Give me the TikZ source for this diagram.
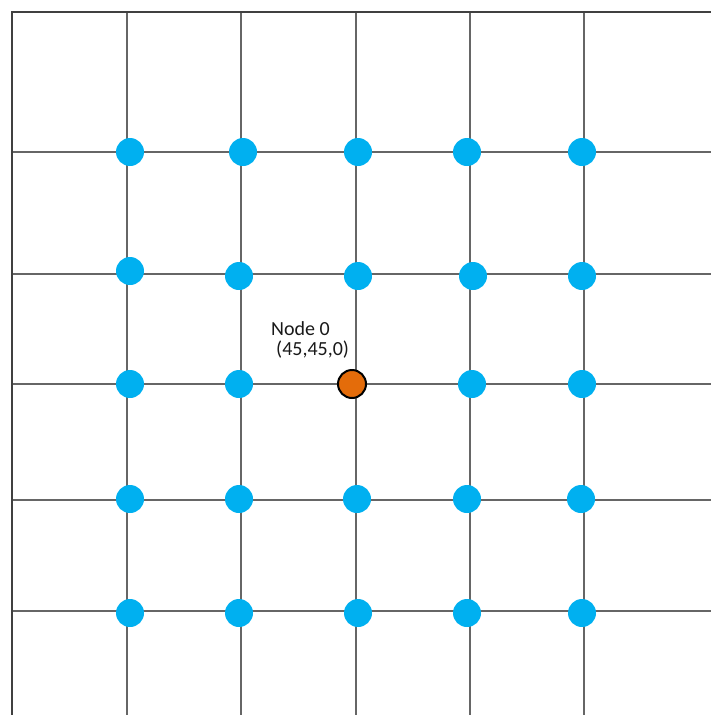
\documentclass[tikz,border=0pt]{standalone}
\usepackage{fontspec}
\setmainfont{Carlito}
\usepackage{tikz}
\usetikzlibrary{positioning}
\definecolor{sensorblue}{HTML}{00B0F0}
\definecolor{sinkorange}{HTML}{E46C0A}
\tikzset{
	gridline/.style={line width=2pt, draw=black!60},
	borderline/.style={line width=2pt, draw=black!75},
	sensor/.style={circle, fill=sensorblue, minimum size=28pt, inner sep=0pt},
	sink/.style={circle, fill=sinkorange, draw=black, line width=2pt, minimum size=28pt, inner sep=0pt},
	labeltext/.style={font=\fontsize{20}{24}\selectfont, text=black!90, inner sep=0pt, anchor=base west}
}

\begin{document}
\begin{tikzpicture}[x=1pt, y=-1pt]
      \useasboundingbox (0,0) rectangle (711,715);
      % grid
      \foreach \gx in {127,241,356,470,584}
        \draw[gridline] (\gx,12) -- (\gx,715);
      \foreach \gy in {152,274,384,500,611}
        \draw[gridline] (11,\gy) -- (711,\gy);
      \draw[borderline] (12,715) -- (12,12) -- (711,12);
      % sensor nodes
      \foreach \px/\py [count=\i] in {130/152, 243/152, 358/152, 467/152, 582/152,
          130/271, 239/276, 358/276, 473/276, 582/276,
          130/384, 239/384, 472/384, 582/384,
          130/499, 239/499, 357/499, 467/499, 581/499,
          130/613, 239/613, 358/613, 467/613, 582/613}
        \node[sensor] (s\i) at (\px,\py) {};
      % sink
      \node[sink] (n0) at (352,384) {};
      \node[labeltext] (n0name) at (271,335) {Node 0};
      \node[labeltext] (n0pos) at (276,355) {(45,45,0)};
    \end{tikzpicture}
\end{document}
